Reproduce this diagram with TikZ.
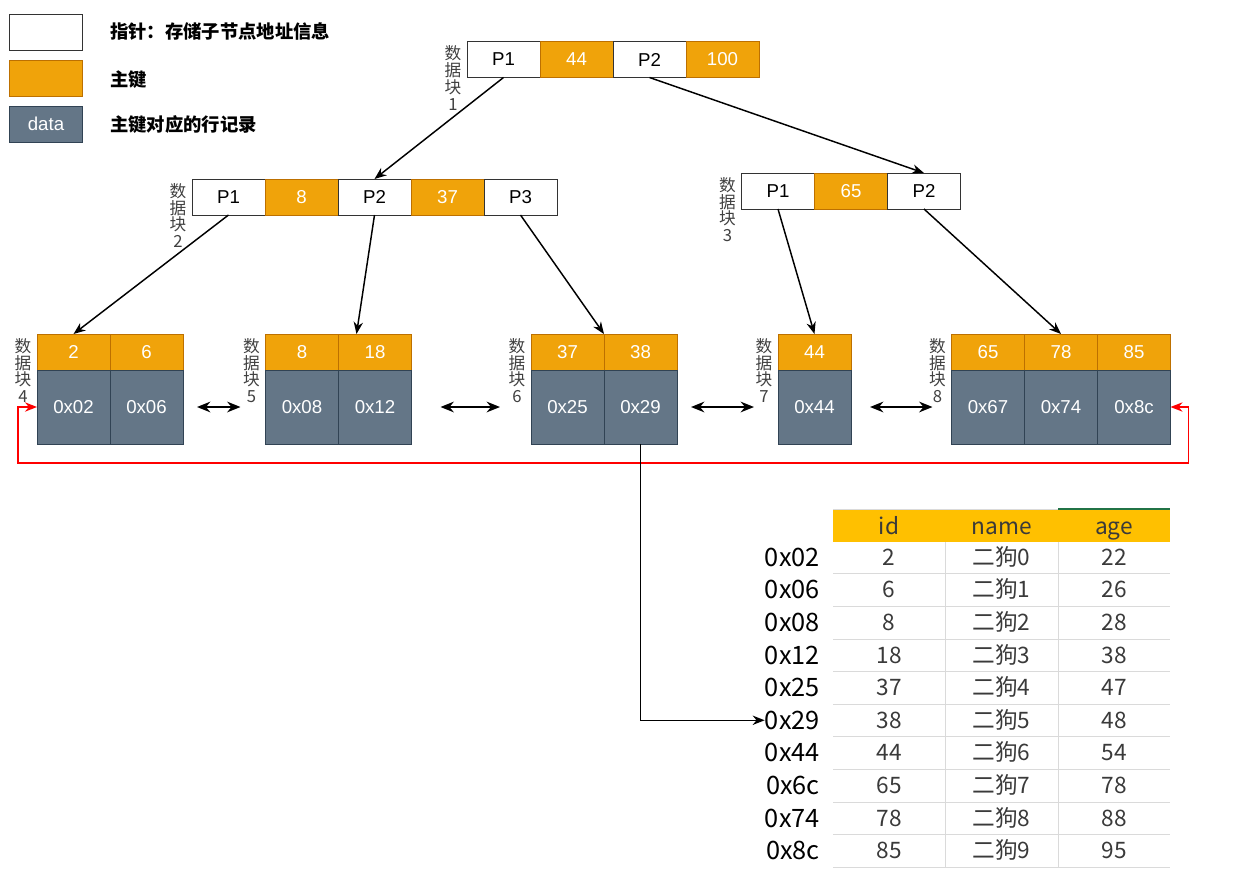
\documentclass[tikz,border=0pt]{standalone}
\usepackage{fontspec}
\setmainfont{Liberation Sans}
\newfontfamily\cjk{Noto Sans CJK SC}
\usetikzlibrary{positioning,arrows.meta}

\definecolor{keyfill}{HTML}{F0A30A}
\definecolor{keyline}{HTML}{BD7000}
\definecolor{datfill}{HTML}{647687}
\definecolor{datline}{HTML}{314354}
\definecolor{hdrfill}{HTML}{FFC000}
\definecolor{tabgray}{HTML}{3A3A3A}
\definecolor{gridgray}{HTML}{DADADA}
\definecolor{gridgreen}{HTML}{217346}

\tikzset{
  cell/.style={draw=black!80, fill=white, line width=0.75pt, outer sep=0pt,
    minimum width=54.75pt, minimum height=27pt, inner sep=0pt,
    font=\fontsize{14}{14}\selectfont},
  ptrcell/.style={cell},
  keycell/.style={cell, draw=keyline, fill=keyfill, text=white},
  datcell/.style={cell, draw=datline, fill=datfill, text=white, minimum height=55.5pt},
  blklabel/.style={font=\cjk\fontsize{12.5}{12.6}\selectfont, text=black!75,
    align=center, inner sep=0pt, anchor=north},
  legendtext/.style={font=\cjk\bfseries\fontsize{13.75}{13.75}\selectfont,
    inner sep=0pt, anchor=west},
  treearrow/.style={-{Stealth[length=9pt,width=7pt]}, line width=1.1pt},
  linkarrow/.style={{Stealth[length=10pt,width=8pt]}-{Stealth[length=10pt,width=8pt]},
    line width=1.5pt},
  redlink/.style={{Stealth[length=9pt,width=7pt]}-{Stealth[length=9pt,width=7pt]},
    draw=red, line width=1.2pt},
  tabcell/.style={font=\cjk\fontsize{17}{17}\selectfont, text=tabgray,
    inner sep=0pt, anchor=base},
  addr/.style={font=\cjk\fontsize{19}{19}\selectfont, inner sep=0pt, anchor=base east},
}

\begin{document}
\begin{tikzpicture}[x=0.75pt, y=-0.75pt]

  \useasboundingbox (0,0) rectangle (1233,871);

  % legend
  \node[ptrcell] (lgptr) at (46,32) {};
  \node[keycell] (lgkey) at (46,78) {};
  \node[datcell, minimum height=27pt] (lgdat) at (46,124) {data};
  \node[legendtext] (lgptrtext) at (110,32) {指针：存储子节点地址信息};
  \node[legendtext] (lgkeytext) at (110,80) {主键};
  \node[legendtext] (lgdattext) at (110,125) {主键对应的行记录};

  % block 1
  \node[ptrcell] (a1p1) at (503.5,59.5) {P1};
  \node[keycell, right=0pt of a1p1] (a1k1) {44};
  \node[ptrcell, right=0pt of a1k1] (a1p2) {P2};
  \node[keycell, right=0pt of a1p2] (a1k2) {100};

  % blocks 2 and 3
  \node[ptrcell] (b2p1) at (228.5,197) {P1};
  \node[keycell, right=0pt of b2p1] (b2k1) {8};
  \node[ptrcell, right=0pt of b2k1] (b2p2) {P2};
  \node[keycell, right=0pt of b2p2] (b2k2) {37};
  \node[ptrcell, right=0pt of b2k2] (b2p3) {P3};

  \node[ptrcell] (b3p1) at (778,191) {P1};
  \node[keycell, right=0pt of b3p1] (b3k1) {65};
  \node[ptrcell, right=0pt of b3k1] (b3p2) {P2};

  % leaf blocks 4 to 8
  \foreach \nm/\x/\k/\d in {41/73.5/2/0x02, 42/146.5/6/0x06,
                            51/302/8/0x08, 52/375/18/0x12,
                            61/567.5/37/0x25, 62/640.5/38/0x29,
                            71/814.5/44/0x44,
                            81/988/65/0x67, 82/1061/78/0x74, 83/1134/85/0x8c} {
    \node[keycell] (k\nm) at (\x,352) {\k};
    \node[datcell, below=0pt of k\nm] (d\nm) {\d};
  }

  % block labels
  \node[blklabel] (l1) at ([xshift=-10.5pt,yshift=-3pt]a1p1.north west) {数\\据\\块\\1};
  \node[blklabel] (l2) at ([xshift=-10.5pt,yshift=-3pt]b2p1.north west) {数\\据\\块\\2};
  \node[blklabel] (l3) at ([xshift=-10.5pt,yshift=-3pt]b3p1.north west) {数\\据\\块\\3};
  \node[blklabel] (l4) at ([xshift=-10.5pt,yshift=-3pt]k41.north west) {数\\据\\块\\4};
  \node[blklabel] (l5) at ([xshift=-10.5pt,yshift=-3pt]k51.north west) {数\\据\\块\\5};
  \node[blklabel] (l6) at ([xshift=-10.5pt,yshift=-3pt]k61.north west) {数\\据\\块\\6};
  \node[blklabel] (l7) at ([xshift=-10.5pt,yshift=-3pt]k71.north west) {数\\据\\块\\7};
  \node[blklabel] (l8) at ([xshift=-10.5pt,yshift=-3pt]k81.north west) {数\\据\\块\\8};

  % pointers
  \draw[treearrow] (a1p1.south) -- (b2p2.north);
  \draw[treearrow] (a1p2.south) -- (b3p2.north);
  \draw[treearrow] (b2p1.south) -- (k41.north);
  \draw[treearrow] (b2p2.south) -- ([xshift=13.5pt]k52.north west);
  \draw[treearrow] (b2p3.south) -- (k61.north east);
  \draw[treearrow] (b3p1.south) -- (k71.north);
  \draw[treearrow] (b3p2.south) -- (k82.north);

  % links between leaves
  \draw[linkarrow] ([xshift=10.5pt]d42.east) -- ([xshift=-18.75pt]d51.west);
  \draw[linkarrow] ([xshift=21.75pt]d52.east) -- ([xshift=-23.25pt]d61.west);
  \draw[linkarrow] ([xshift=10.5pt]d62.east) -- ([xshift=-18pt]d71.west);
  \draw[linkarrow] ([xshift=14.25pt]d71.east) -- ([xshift=-14.25pt]d81.west);
  \draw[redlink] (d41.west) -- ++(-19,0)
    |- ([xshift=13.5pt,yshift=-14.25pt]d83.south east) |- (d83.east);

  % table
  \fill[hdrfill] (833,510) rectangle (1170,542);
  \draw[gridgray] (833,509) -- (1058,509);
  \draw[gridgreen, line width=1pt] (1058,509) -- (1170,509);
  \node[tabcell] (hid) at (889,534) {id};
  \node[tabcell] (hname) at (1001.5,534) {name};
  \node[tabcell] (hage) at (1114,534) {age};
  \foreach \ad/\id/\nm/\age [count=\r] in {0x02/2/0/22, 0x06/6/1/26, 0x08/8/2/28,
      0x12/18/3/38, 0x25/37/4/47, 0x29/38/5/48, 0x44/44/6/54,
      0x6c/65/7/78, 0x74/78/8/88, 0x8c/85/9/95} {
    \pgfmathsetmacro{\yb}{541+32.6*(\r-0.5)+8}
    \pgfmathsetmacro{\yl}{541+32.6*\r}
    \node[addr] (r\r) at (820,\yb+1) {\ad};
    \node[tabcell] (c\r-1) at (889,\yb) {\id};
    \node[tabcell] (c\r-2) at (1001.5,\yb) {二狗\nm};
    \node[tabcell] (c\r-3) at (1114,\yb) {\age};
    \draw[gridgray] (833,\yl) -- (1170,\yl);
  }
  \draw[gridgray] (945,542) -- (945,867);
  \draw[gridgray] (1058,542) -- (1058,867);

  % row pointer
  \draw[treearrow] (d62.south) |- (r6.west);

\end{tikzpicture}
\end{document}
